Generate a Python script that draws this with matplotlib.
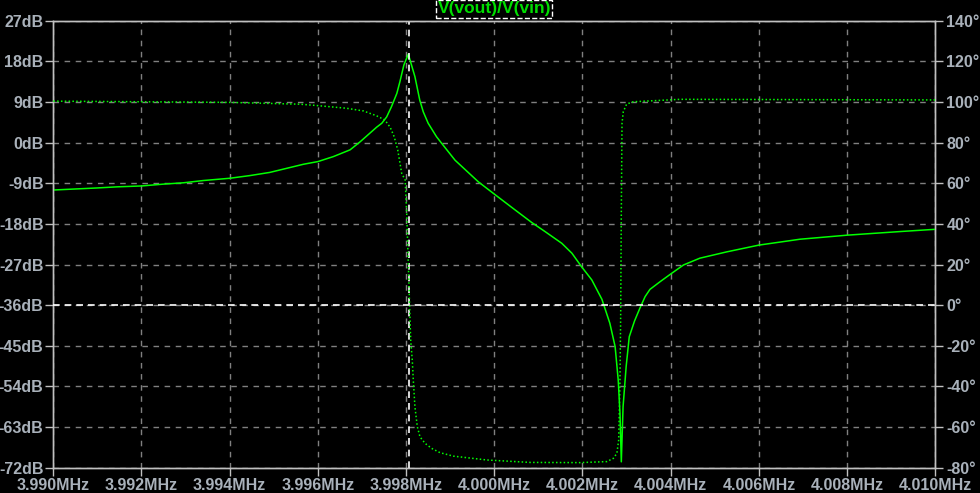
import numpy as np
import matplotlib
matplotlib.use("Agg")
import matplotlib.pyplot as plt
from matplotlib.ticker import FuncFormatter

# frequency (MHz) and magnitude (dB) of V(vout)/V(vin)
mag_freq = [3.99000, 3.99098, 3.99144, 3.99200, 3.99249, 3.99295, 3.99340, 3.99400,
            3.99446, 3.99491, 3.99529, 3.99567, 3.99600, 3.99635, 3.99673, 3.99696,
            3.99718, 3.99733, 3.99745, 3.99756, 3.99767, 3.99779, 3.99786, 3.99795,
            3.99805, 3.99820, 3.99831, 3.99839, 3.99850, 3.99869, 3.99881, 3.99911,
            3.99964, 4.00000, 4.00047, 4.00085, 4.00115, 4.00153, 4.00176, 4.00198,
            4.00221, 4.00244, 4.00262, 4.00274, 4.00281, 4.00285, 4.00288, 4.00292,
            4.00299, 4.00306, 4.00318, 4.00330, 4.00342, 4.00353, 4.00376, 4.00400,
            4.00429, 4.00466, 4.00527, 4.00600, 4.00693, 4.00800, 4.00920, 4.01000]
mag_db = [-10.5, -10.05, -9.8, -9.6, -9.2, -8.9, -8.4, -7.9,
          -7.3, -6.6, -5.7, -4.8, -4.2, -3.1, -1.6, 0.2,
          2.1, 3.4, 4.3, 5.7, 8.0, 10.9, 13.5, 17.2,
          19.6, 14.6, 9.4, 6.8, 4.3, 1.3, -0.2, -3.9,
          -8.7, -11.4, -14.9, -17.7, -19.7, -22.3, -24.5, -27.5,
          -30.4, -34.7, -40.0, -45.2, -52.6, -59.9, -70.7, -58.5,
          -49.6, -43.0, -39.5, -36.7, -34.1, -32.5, -30.8, -29.1,
          -27.1, -25.6, -24.2, -22.7, -21.4, -20.5, -19.7, -19.2]

# phase (degrees)
ph_freq = [3.99000, 3.99400, 3.99560, 3.99600, 3.99665, 3.99703, 3.99733, 3.99752,
           3.99764, 3.99773, 3.99781, 3.99790, 3.997979, 3.998014, 3.99805, 3.998073,
           3.998104, 3.99814, 3.998163, 3.99820, 3.998254, 3.998315, 3.998429, 3.99858,
           3.998769, 3.99907, 3.99983, 4.00081, 4.00194, 4.00255, 4.00270, 4.00278,
           4.00282, 4.002834, 4.00285, 4.002866, 4.00288, 4.002896, 4.002925, 4.003002,
           4.003152, 4.004211, 4.01000]
ph_deg = [100.4, 99.8, 98.9, 98.2, 96.9, 95.6, 93.2, 91.1,
          87.5, 82.9, 76.4, 64.9, 61.6, 45.2, 20.6, 4.2,
          -17.2, -27.0, -36.8, -50.0, -59.8, -64.8, -68.0, -70.5,
          -72.6, -74.3, -76.2, -77.4, -77.5, -77.0, -75.4, -72.9,
          -66.4, -53.2, -36.8, -4.0, 45.2, 89.5, 95.2, 99.0,
          100.1, 101.3, 101.0]

x_ticks = [3.990, 3.992, 3.994, 3.996, 3.998, 4.000, 4.002, 4.004, 4.006, 4.008, 4.010]
db_ticks = [27, 18, 9, 0, -9, -18, -27, -36, -45, -54, -63, -72]
deg_ticks = [140, 120, 100, 80, 60, 40, 20, 0, -20, -40, -60, -80]
cursor_freq = 3.998073
cursor_deg = 0

green = "#00ff00"
txt = "#a9b1ba"
axc = "#c0c0c0"
plt.rcParams['font.family'] = ['Liberation Sans', 'DejaVu Sans']

fig = plt.figure(figsize=(9.8, 4.93), dpi=100, facecolor="black")
ax = fig.add_axes([53.3 / 980, 1 - 467.7 / 493, 882 / 980, 447 / 493])
ax.set_facecolor("black")
ax2 = ax.twinx()

ax.set_xlim(3.990, 4.010)
ax.set_ylim(-72, 27)
ax2.set_ylim(-80, 140)

ax.plot(mag_freq, mag_db, color=green, lw=1.1, zorder=4)
ax2.plot(ph_freq, ph_deg, color=green, lw=1.1, linestyle=(0, (1, 1.5)), zorder=4)

# cursors
ax.axvline(cursor_freq, color="white", lw=1.2, ls=(0, (4, 3)), zorder=5)
ax2.axhline(cursor_deg, color="white", lw=1.2, ls=(0, (4, 3)), zorder=5)

ax.set_xticks(x_ticks)
ax.set_yticks(db_ticks)
ax2.set_yticks(deg_ticks)
ax.xaxis.set_major_formatter(FuncFormatter(lambda v, p: f"{v:.3f}MHz"))
ax.yaxis.set_major_formatter(FuncFormatter(lambda v, p: f"{v:g}dB"))
ax2.yaxis.set_major_formatter(FuncFormatter(lambda v, p: f"{v:g}°"))

ax.grid(True, color="#808080", lw=1, ls=(0, (4, 4)))
for a in (ax, ax2):
    for s in a.spines.values():
        s.set_color(axc)
        s.set_linewidth(1)
    a.tick_params(colors=axc, labelcolor=txt, length=6, width=1, labelsize=11.5)
ax.tick_params(axis="y", pad=1)
ax.tick_params(axis="x", pad=1.5)
ax2.tick_params(axis="y", pad=2)
for lab in ax.get_xticklabels() + ax.get_yticklabels() + ax2.get_yticklabels():
    lab.set_fontweight("bold")

fig.text(494.3 / 980, 1 - 9.0 / 493, "V(vout)/V(vin)", color="#00dd00", fontsize=12.5,
         fontweight="bold", ha="center", va="center",
         bbox=dict(facecolor="black", edgecolor="white", linestyle="--", lw=1,
                   boxstyle="square,pad=0.08"))

fig.savefig("out.png", dpi=100, facecolor="black")
